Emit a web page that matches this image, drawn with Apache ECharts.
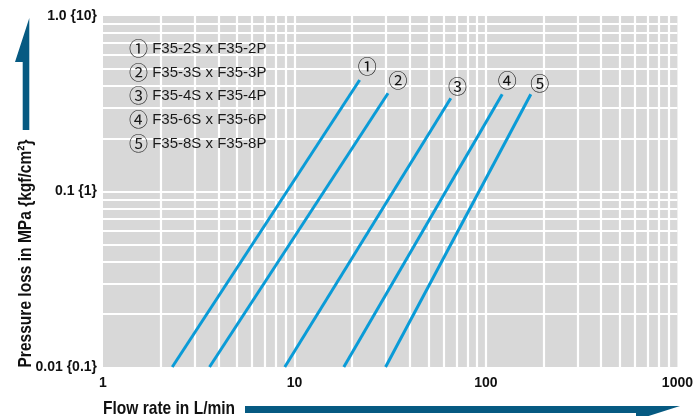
<!DOCTYPE html>
<html>
<head>
<meta charset="utf-8">
<script src="https://cdn.jsdelivr.net/npm/echarts@6/dist/echarts.min.js"></script>
<style>html,body{margin:0;padding:0;background:#fff}#c{width:696px;height:416px}</style>
</head>
<body>
<div id="c"></div>
<script>
// ---- data ----
var seriesTags = ['\u2460', '\u2461', '\u2462', '\u2463', '\u2464'];
var seriesLabels = ['F35-2S x F35-2P', 'F35-3S x F35-3P', 'F35-4S x F35-4P', 'F35-6S x F35-6P', 'F35-8S x F35-8P'];
var flow1 = [2.3, 21.9];   var loss1 = [0.01, 0.432];
var flow2 = [3.6, 30.8];   var loss2 = [0.01, 0.363];
var flow3 = [8.9, 65.5];   var loss3 = [0.01, 0.34];
var flow4 = [18.1, 121.6]; var loss4 = [0.01, 0.358];
var flow5 = [29.9, 171.5]; var loss5 = [0.01, 0.358];
var xTickValues = [1, 10, 100, 1000];
var xTickLabels = ['1', '10', '100', '1000'];
var yTickValues = [0.01, 0.1, 1];
var yTickLabels = ['0.01 {0.1}', '0.1 {1}', '1.0 {10}'];
var xTitle = 'Flow rate in L/min';
var yTitle = 'Pressure loss in MPa {kgf/cm\u00B2}';

// ---- style ----
var FONT = '"Liberation Sans", Arimo, Arial, sans-serif';
var CIRC = '"Noto Sans CJK JP", "DejaVu Sans", sans-serif';
var lineColor = '#0a9bd7';
var arrowColor = '#065a82';
var tagOffsets = [[7.6, -13.3], [10, -12.3], [6.7, -11.6], [5, -13.3], [9, -11]];

var flows = [flow1, flow2, flow3, flow4, flow5];
var losses = [loss1, loss2, loss3, loss4, loss5];
var seriesNames = seriesLabels.map(function (t, i) { return seriesTags[i] + ' ' + t; });

// grid lines at every integer multiple within each decade
var xGrid = [], yGrid = [];
[1, 10, 100].forEach(function (d) { for (var k = 2; k <= 10; k++) { if (d * k < 1000) xGrid.push(d * k); } });
[0.01, 0.1].forEach(function (d) { for (var k = 2; k <= 10; k++) { var v = +(d * k).toFixed(4); if (v < 1) yGrid.push(v); } });

function labelFor(values, labels, v) {
  for (var i = 0; i < values.length; i++) { if (Math.abs(Math.log10(v) - Math.log10(values[i])) < 1e-6) return labels[i]; }
  return '';
}

var series = [{
  type: 'line', data: [], silent: true, z: 1,
  markLine: {
    silent: true, symbol: 'none', animation: false, z: 1,
    label: { show: false },
    lineStyle: { color: '#ffffff', width: 2.2, type: 'solid' },
    emphasis: { disabled: true },
    data: xGrid.map(function (v) { return { xAxis: v }; }).concat(yGrid.map(function (v) { return { yAxis: v }; }))
  }
}];
for (var s = 0; s < 5; s++) {
  var pts = [];
  for (var j = 0; j < flows[s].length; j++) {
    var item = { value: [flows[s][j], losses[s][j]] };
    if (j === flows[s].length - 1) {
      item.label = {
        show: true, position: 'inside', offset: tagOffsets[s],
        formatter: seriesTags[s], color: '#111', fontSize: 19, fontFamily: CIRC
      };
    }
    pts.push(item);
  }
  series.push({
    name: seriesNames[s], type: 'line', data: pts, z: 5,
    symbol: 'circle', symbolSize: 0, showSymbol: true,
    lineStyle: { color: lineColor, width: 3 }, itemStyle: { color: lineColor },
    label: { show: false }, animation: false, silent: true
  });
}

var chart = echarts.init(document.getElementById('c'), null, { renderer: 'canvas' });
chart.setOption({
  backgroundColor: '#ffffff',
  animation: false,
  grid: { left: 103, right: 16, top: 16, bottom: 49, show: true, backgroundColor: '#d8d8d8', borderWidth: 0 },
  legend: {
    data: seriesNames, orient: 'vertical', left: 119, top: 34, itemWidth: 0, itemHeight: 0, itemGap: 3.6,
    icon: 'rect', itemStyle: { opacity: 0 }, selectedMode: false,
    formatter: function (name) {
      var i = seriesNames.indexOf(name);
      return '{c|' + seriesTags[i] + '}{t| ' + seriesLabels[i] + '}';
    },
    textStyle: {
      fontFamily: FONT, fontSize: 15, color: '#1a1a1a', lineHeight: 20,
      rich: {
        c: { fontFamily: CIRC, fontSize: 19, color: '#1a1a1a', lineHeight: 20 },
        t: { fontFamily: FONT, fontSize: 15, color: '#1a1a1a', lineHeight: 20 }
      }
    }
  },
  xAxis: {
    type: 'log', logBase: 10, min: 1, max: 1000,
    axisLine: { show: false }, axisTick: { show: false }, splitLine: { show: false },
    axisLabel: {
      margin: 9, color: '#111', fontSize: 14, fontWeight: 'bold', fontFamily: FONT,
      formatter: function (v) { return labelFor(xTickValues, xTickLabels, v); }
    }
  },
  yAxis: {
    type: 'log', logBase: 10, min: 0.01, max: 1,
    axisLine: { show: false }, axisTick: { show: false }, splitLine: { show: false },
    axisLabel: {
      margin: 6, color: '#111', fontSize: 14, fontWeight: 'bold', fontFamily: FONT,
      formatter: function (v) { return labelFor(yTickValues, yTickLabels, v); }
    }
  },
  graphic: [
    { type: 'polygon', silent: true, shape: { points: [[29.3, 18], [29.3, 130], [22.7, 130], [22.7, 62], [15, 62]] }, style: { fill: arrowColor } },
    { type: 'polygon', silent: true, shape: { points: [[245, 406], [680, 406], [636, 420], [636, 413], [245, 413]] }, style: { fill: arrowColor } },
    { type: 'text', silent: true, x: 103, y: 409, scaleX: 0.84, style: { text: xTitle, fontFamily: FONT, fontSize: 18.5, fontWeight: 'bold', fill: '#111', align: 'left', verticalAlign: 'middle' } },
    { type: 'text', silent: true, x: 25.5, y: 253.5, rotation: Math.PI / 2, scaleX: 0.84, style: { text: yTitle, fontFamily: FONT, fontSize: 18.5, fontWeight: 'bold', fill: '#111', align: 'center', verticalAlign: 'middle' } }
  ],
  series: series
});
</script>
</body>
</html>
